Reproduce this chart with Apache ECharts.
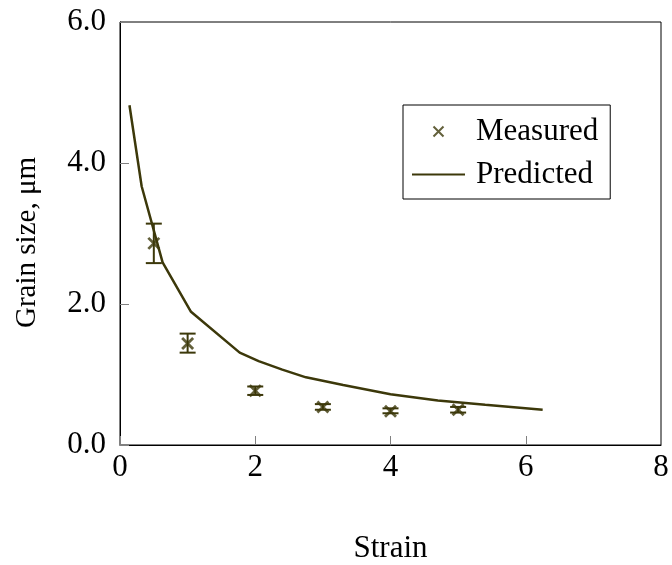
<!DOCTYPE html>
<html>
<head>
<meta charset="utf-8">
<script src="https://cdn.jsdelivr.net/npm/echarts@6/dist/echarts.min.js"></script>
<style>
  html, body { margin: 0; padding: 0; background: #fff; }
  #main { width: 672px; height: 565px; }
</style>
</head>
<body>
<div id="main"></div>
<script>
// measured grain size (with scatter bars)
var measuredStrain = [0.5, 1, 2, 3, 4, 5];
var measuredSize = [2.86, 1.44, 0.77, 0.54, 0.48, 0.50];
var errLow = [2.58, 1.31, 0.71, 0.50, 0.45, 0.46];
var errHigh = [3.14, 1.58, 0.83, 0.58, 0.52, 0.54];

// predicted curve
var predStrain = [0.14, 0.32, 0.63, 1.05, 1.77, 2.05, 2.4, 2.75, 3.3, 4.0, 4.7, 5.4, 6.25];
var predSize = [4.82, 3.67, 2.59, 1.89, 1.31, 1.19, 1.07, 0.96, 0.85, 0.72, 0.63, 0.57, 0.50];

var olive = "#3c380a";
var serif = "Liberation Serif";
var fs = 31;

var myChart = echarts.init(document.getElementById("main"));

var option = {
  animation: false,
  grid: {
    left: 120, right: 11, top: 22, bottom: 120,
    outerBoundsMode: "none",
    containLabel: false,
    show: true, borderColor: "#000", borderWidth: 1
  },
  legend: {
    orient: "vertical",
    left: 403, top: 105,
    padding: [11, 12, 9, 8],
    itemGap: 12,
    itemWidth: 53, itemHeight: 10,
    borderColor: "#000", borderWidth: 1,
    textStyle: { fontFamily: serif, fontSize: fs, color: "#000", padding: [0, 0, 0, 6] },
    data: [
      "Measured",
      { name: "Predicted", itemStyle: { color: "transparent", borderColor: "transparent", borderWidth: 0 } }
    ]
  },
  xAxis: {
    type: "value", min: 0, max: 8, interval: 2,
    name: "Strain", nameLocation: "middle", nameGap: 88,
    nameTextStyle: { fontFamily: serif, fontSize: fs, color: "#000" },
    axisLine: { lineStyle: { color: "#000", width: 1 } },
    axisTick: { inside: true, length: 9, lineStyle: { color: "#808080" } },
    axisLabel: { fontFamily: serif, fontSize: fs, color: "#000", margin: 7 },
    splitLine: { show: false }
  },
  yAxis: {
    type: "value", min: 0, max: 6, interval: 2,
    name: "Grain size, μm", nameLocation: "middle", nameGap: 78,
    nameTextStyle: { fontFamily: serif, fontSize: 29, color: "#000", padding: [0, 18, 0, 0] },
    axisLine: { show: true, lineStyle: { color: "#000", width: 1 } },
    axisTick: { show: true, inside: true, length: 9, lineStyle: { color: "#808080" } },
    axisLabel: {
      fontFamily: serif, fontSize: fs, color: "#000", margin: 14,
      formatter: function (v) { return v.toFixed(1); }
    },
    splitLine: { show: false }
  },
  series: [
    {
      name: "Predicted",
      type: "line",
      data: predStrain.map(function (x, i) { return [x, predSize[i]]; }),
      symbol: "none",
      lineStyle: { color: olive, width: 2.5 },
      itemStyle: { color: olive },
      z: 3
    },
    {
      name: "Measured",
      type: "scatter",
      data: measuredStrain.map(function (x, i) { return [x, measuredSize[i]]; }),
      symbol: "path://M0,0L10,10M10,0L0,10",
      symbolSize: 11,
      itemStyle: { color: "none", borderColor: olive, borderWidth: 2.8 },
      z: 4
    },
    {
      name: "errorbars",
      type: "custom",
      data: measuredStrain.map(function (x, i) { return [x, errLow[i], errHigh[i]]; }),
      renderItem: function (params, api) {
        var lo = api.coord([api.value(0), api.value(1)]);
        var hi = api.coord([api.value(0), api.value(2)]);
        var w = 8;
        var st = { stroke: olive, lineWidth: 2 };
        return {
          type: "group",
          children: [
            { type: "line", shape: { x1: lo[0], y1: lo[1], x2: hi[0], y2: hi[1] }, style: st },
            { type: "line", shape: { x1: lo[0] - w, y1: lo[1], x2: lo[0] + w, y2: lo[1] }, style: st },
            { type: "line", shape: { x1: hi[0] - w, y1: hi[1], x2: hi[0] + w, y2: hi[1] }, style: st }
          ]
        };
      },
      z: 4
    }
  ]
};

myChart.setOption(option);
</script>
</body>
</html>
